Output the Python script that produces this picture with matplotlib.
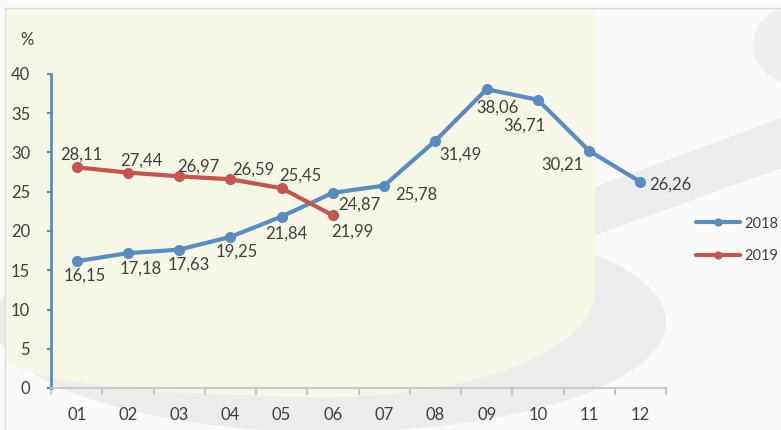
import numpy as np
import matplotlib.pyplot as plt
from matplotlib.patches import Polygon, Ellipse

months = ['01', '02', '03', '04', '05', '06', '07', '08', '09', '10', '11', '12']
y2018 = [16.15, 17.18, 17.63, 19.25, 21.84, 24.87, 25.78, 31.49, 38.06, 36.71, 30.21, 26.26]
y2019 = [28.11, 27.44, 26.97, 26.59, 25.45, 21.99]

# label offsets in pixels (dx, dy) as they sit in the picture
off2018 = [(8, -14), (13, -15), (10, -15), (6, -15), (5, -17), (26, -12),
           (32, -9), (25, -14), (11, -18), (-13, -26), (-27, -14), (30, -3)]
off2019 = [(5, 13), (13, 12), (19, 10), (23, 10), (19, 13), (19, -16)]

blue = '#5B8CC0'
red = '#C4564F'
txt = '#404040'
plt.rcParams['font.family'] = ['Lato', 'DejaVu Sans']

fig = plt.figure(figsize=(7.81, 4.30), dpi=100, facecolor='#FAFAFA')

# decorative background, drawn in pixel space
bg = fig.add_axes([0, 0, 1, 1], zorder=0)
bg.set_xlim(0, 781)
bg.set_ylim(430, 0)
bg.axis('off')
grey = '#ECECED'
bg.add_patch(Ellipse((330, 322), 672, 220, color=grey, lw=0))
bg.add_patch(Polygon([(560, 200), (781, 118), (781, 168), (560, 248)], closed=True, color=grey, lw=0))
bg.add_patch(Ellipse((800, 45), 95, 80, color='#EEEEEF', lw=0))
# cylinder shape: flat top, rounded bottom
t1 = np.linspace(0, np.pi / 2, 30)
right = [(330 + 265 * np.cos(t), 290 + 107 * np.sin(t)) for t in t1]
t2 = np.linspace(np.pi / 2, np.pi, 30)
left = [(330 + 325 * np.cos(t), 357 + 40 * np.sin(t)) for t in t2]
cyl = [(5, 8), (595, 8)] + right + left
bg.add_patch(Polygon(cyl, closed=True, color='#F6F7E6', lw=0))
bg.plot([5, 781], [8, 8], color='#D9D9D9', lw=1)
bg.plot([5, 5], [8, 430], color='#DDDDDD', lw=1)

ax = fig.add_axes([51 / 781, 1 - 388 / 430, 615 / 781, 314 / 430], zorder=1)
ax.patch.set_alpha(0)
x = np.arange(len(months))

ax.plot(x, y2018, color=blue, lw=3, marker='o', ms=7, label='2018', solid_capstyle='round')
ax.plot(x[:len(y2019)], y2019, color=red, lw=3, marker='o', ms=7, label='2019', solid_capstyle='round')

for i, v in enumerate(y2018):
    ax.annotate(f'{v:.2f}'.replace('.', ','), (x[i], v), xytext=off2018[i],
                textcoords='offset pixels', ha='center', va='center', fontsize=12, color=txt)
for i, v in enumerate(y2019):
    ax.annotate(f'{v:.2f}'.replace('.', ','), (x[i], v), xytext=off2019[i],
                textcoords='offset pixels', ha='center', va='center', fontsize=12, color=txt)

ax.set_xlim(-0.5, 11.5)
ax.set_ylim(0, 40)
ax.set_yticks(np.arange(0, 41, 5))
ax.set_xticks(x)
ax.set_xticklabels(months)
ax.set_xticks(np.arange(-0.5, 12, 1), minor=True)
ax.tick_params(axis='x', which='major', length=0, pad=14, labelsize=12, labelcolor=txt)
ax.tick_params(axis='x', which='minor', length=5, color='#C8C8C8', width=1.5)
ax.tick_params(axis='y', length=3, color=blue, width=1.5, pad=12, labelsize=12, labelcolor=txt)

for s in ['top', 'right']:
    ax.spines[s].set_visible(False)
ax.spines['left'].set_color(blue)
ax.spines['left'].set_linewidth(2)
ax.spines['bottom'].set_color('#C8C8C8')
ax.spines['bottom'].set_linewidth(1.5)

fig.text(27 / 781, 1 - 40 / 430, '%', fontsize=12, color=txt, ha='center', va='center')

leg = ax.legend(loc='center left', bbox_to_anchor=(683 / 781, 1 - 240 / 430),
                bbox_transform=fig.transFigure, frameon=False, fontsize=10.5,
                handlelength=3.0, labelspacing=1.3, handletextpad=0.3, markerscale=0.7)
for t in leg.get_texts():
    t.set_color(txt)

fig.savefig('out.png', dpi=100, facecolor=fig.get_facecolor())
